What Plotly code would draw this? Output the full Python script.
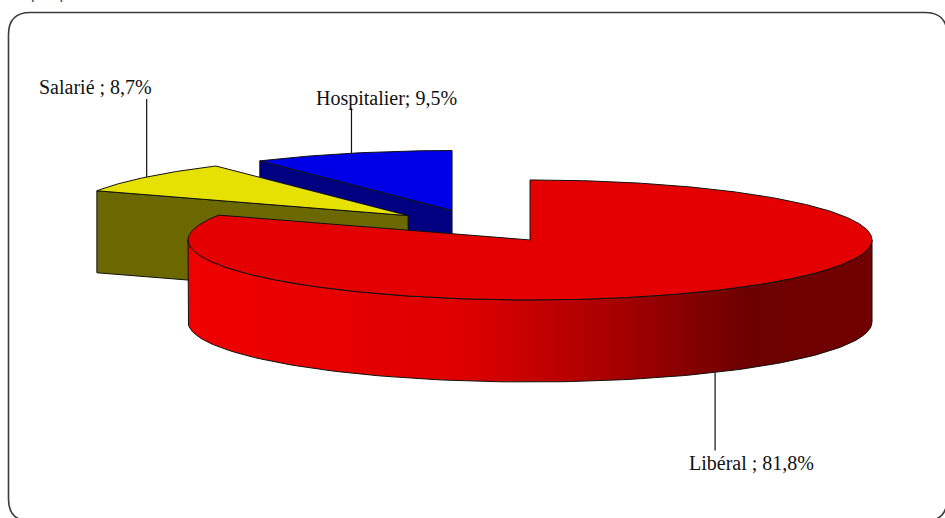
import numpy as np
import plotly.graph_objects as go

# ---- data -------------------------------------------------------------
categories = ["Libéral", "Salarié", "Hospitalier"]
shares = [81.8, 8.7, 9.5]
separators = [" ; ", " ; ", "; "]

# ---- style ------------------------------------------------------------
top_colors = ["#e40000", "#e6e100", "#0000e6"]
side_colors = ["#d40000", "#6c6800", "#000080"]
red_side_scale = [[0.0, "#f00000"], [0.4, "#de0000"], [0.62, "#a80000"],
                  [0.82, "#6c0000"], [1.0, "#720000"]]
label_font = dict(family="Liberation Serif", size=20, color="#111111")

W, H = 945, 518
CX, CY = 479.5, 226.2          # pie centre (pixels)
RX, RY = 342.0, 60.0           # ellipse radii of the tilted disc
DEPTH = 82.0                   # thickness of the disc
EXPLODE = 0.273                # slice explosion, fraction of radius
OUTLINE = dict(color="#111111", width=1)

# label centre offset from the leader anchor (dx, dy) and leader length
label_offsets = [(36, 91, 78), (-51, -90, -78), (35, -55, -45)]


def pt(theta, cx, cy, dz=0.0):
    t = np.radians(theta)
    return cx + RX * np.sin(t), cy - RY * np.cos(t) + dz


fig = go.Figure()

total = sum(shares)
bounds = np.concatenate([[0.0], np.cumsum(shares) / total * 360.0])

slices = []
for i, (name, val) in enumerate(zip(categories, shares)):
    t1, t2 = bounds[i], bounds[i + 1]
    mid = (t1 + t2) / 2
    cx = CX + EXPLODE * RX * np.sin(np.radians(mid))
    cy = CY - EXPLODE * RY * np.cos(np.radians(mid))
    slices.append((i, name, val, t1, t2, mid, cx, cy))

# draw back-most slices first
order = sorted(slices, key=lambda s: s[7])


def radial_face(i, theta, cx, cy):
    ex, ey = pt(theta, cx, cy)
    fig.add_trace(go.Scatter(
        x=[cx, ex, ex, cx, cx], y=[cy, ey, ey + DEPTH, cy + DEPTH, cy],
        mode="lines", fill="toself", fillcolor=side_colors[i],
        line=OUTLINE, hoverinfo="skip", showlegend=False))


for i, name, val, t1, t2, mid, cx, cy in order:
    # radial faces that face the viewer
    if np.sin(np.radians(t1)) < -1e-9:
        radial_face(i, t1, cx, cy)
    if np.sin(np.radians(t2)) > 1e-9:
        radial_face(i, t2, cx, cy)
    # curved outer wall (front half only)
    a, b = max(t1, 90.0), min(t2, 270.0)
    if b > a:
        th = np.linspace(a, b, 120)
        xs, ys = pt(th, cx, cy)
        px = np.concatenate([xs, xs[::-1], xs[:1]])
        py = np.concatenate([ys, (ys + DEPTH)[::-1], ys[:1]])
        kw = dict(fillcolor=side_colors[i])
        if i == 0:
            kw = dict(fillgradient=dict(type="horizontal",
                                        colorscale=red_side_scale))
        fig.add_trace(go.Scatter(
            x=px, y=py, mode="lines", fill="toself", line=OUTLINE,
            hoverinfo="skip", showlegend=False, **kw))
    # top face
    th = np.linspace(t1, t2, max(8, int((t2 - t1) * 2)))
    xs, ys = pt(th, cx, cy)
    fig.add_trace(go.Scatter(
        x=np.concatenate([[cx], xs, [cx]]),
        y=np.concatenate([[cy], ys, [cy]]),
        mode="lines", fill="toself", fillcolor=top_colors[i],
        line=OUTLINE, hoverinfo="skip", showlegend=False))

# leader lines and data labels
for i, name, val, t1, t2, mid, cx, cy in slices:
    ax_, ay_ = pt(mid, cx, cy)
    if np.cos(np.radians(mid)) < 0:      # front slice: anchor on the wall bottom
        ay_ += DEPTH
    dx, dy, ldy = label_offsets[i]
    fig.add_trace(go.Scatter(
        x=[ax_, ax_], y=[ay_, ay_ + ldy],
        mode="lines", line=dict(color="#111111", width=1.2),
        hoverinfo="skip", showlegend=False))
    txt = f"{name}{separators[i]}{val:.1f}%".replace(".", ",")
    fig.add_annotation(x=ax_ + dx, y=ay_ + dy, text=txt, showarrow=False,
                       font=label_font, xanchor="center", yanchor="middle")

# caption line running off the top edge
fig.add_annotation(x=2, y=5,
                   text="<i>Graphique n° 3 : Taux d'exercice des médecins selon le mode d'exercice en %</i>",
                   showarrow=False, xanchor="left", yanchor="bottom",
                   font=dict(family="Liberation Sans", size=17, color="#555555"))

# rounded frame
x0, y0, x1, y1, r = 8.5, 12.5, 947.0, 521.0, 22.0
frame = (f"M {x0 + r},{y0} L {x1 - r},{y0} Q {x1},{y0} {x1},{y0 + r} "
         f"L {x1},{y1 - r} Q {x1},{y1} {x1 - r},{y1} L {x0 + r},{y1} "
         f"Q {x0},{y1} {x0},{y1 - r} L {x0},{y0 + r} Q {x0},{y0} {x0 + r},{y0} Z")
fig.add_shape(type="path", path=frame, xref="x", yref="y",
              line=dict(color="#3c3c3c", width=1.6), layer="below")

fig.update_xaxes(range=[0, W], visible=False, fixedrange=True)
fig.update_yaxes(range=[H, 0], visible=False, fixedrange=True)
fig.update_layout(width=W, height=H, autosize=False,
                  margin=dict(l=0, r=0, t=0, b=0),
                  paper_bgcolor="white", plot_bgcolor="white")

fig.write_html("out.html")
